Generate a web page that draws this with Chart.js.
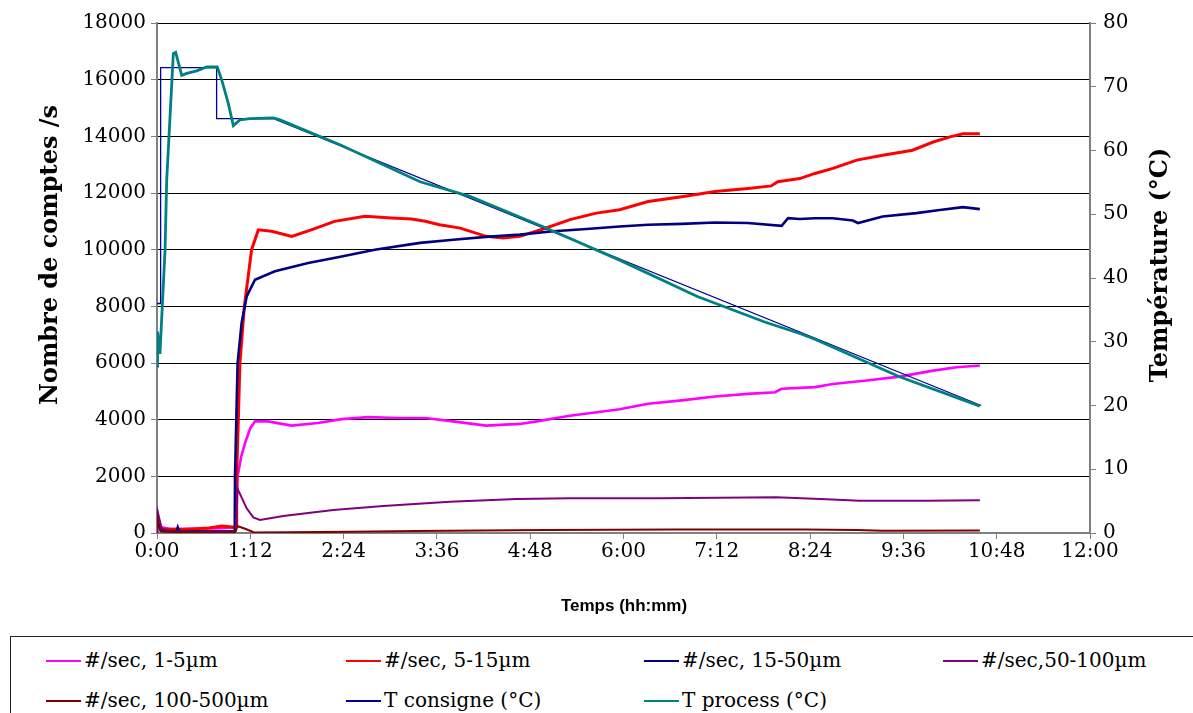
<!DOCTYPE html>
<html>
<head>
<meta charset="utf-8">
<script src="https://cdn.jsdelivr.net/npm/chart.js@4.4.0/dist/chart.umd.min.js"></script>
<style>
body { margin:0; background:#fff; width:1193px; height:713px; overflow:hidden; position:relative; font-family:"DejaVu Serif", serif; }
#wrap { position:absolute; left:0; top:0; width:1193px; height:630px; }
#legend { position:absolute; left:10px; top:636px; width:1200px; height:100px; border:1px solid #222; box-sizing:border-box; }
.item { position:absolute; height:26px; line-height:26px; font-size:20px; white-space:nowrap; color:#000; }
.item .swatch { display:inline-block; width:35px; height:2px; margin-right:3px; vertical-align:middle; position:relative; top:-1px; }
</style>
</head>
<body>
<div id="wrap"><canvas id="chart" width="1193" height="630"></canvas></div>
<div id="legend"></div>
<script>
// time in minutes
var tMag = [0, 1, 3, 10, 30, 50, 60, 61, 62.2, 65, 68, 72, 75.6, 85.6, 104, 124, 142.5, 163, 186, 207, 228.6, 254, 280, 293, 318.7, 357, 379, 405, 430.6, 456, 477, 482, 507.7, 521.6, 547.6, 573, 599, 617, 635];
var vMag = [600, 300, 200, 150, 150, 170, 200, 250, 2000, 2700, 3180, 3700, 3940, 3940, 3790, 3880, 4020, 4090, 4060, 4060, 3940, 3790, 3850, 3940, 4140, 4370, 4560, 4680, 4820, 4910, 4970, 5090, 5150, 5260, 5380, 5520, 5730, 5850, 5910];

var tRed = [0, 1.5, 5, 20, 40, 50, 60, 61, 61.5, 64, 67.4, 73, 78.2, 88.5, 104, 119, 137, 160.5, 181, 196.5, 207, 218, 234, 254, 267, 280, 298, 318.7, 339, 357, 379, 405, 430.6, 456, 474, 479, 496, 507.7, 521.6, 540, 560, 583, 599, 612, 622, 635];
var vRed = [500, 250, 120, 120, 180, 250, 200, 300, 2000, 6000, 8000, 10000, 10700, 10650, 10470, 10700, 11000, 11180, 11120, 11080, 11000, 10880, 10760, 10470, 10410, 10470, 10730, 11060, 11290, 11410, 11700, 11870, 12050, 12160, 12250, 12400, 12510, 12690, 12870, 13160, 13330, 13510, 13800, 13980, 14090, 14090];

var tNavy = [0, 1, 3, 15, 16, 17, 60, 60.2, 62.2, 65.3, 69.2, 75.6, 91, 116.7, 142.5, 168, 203, 228.6, 254, 280, 305.8, 331.5, 357, 379, 405, 430.6, 456, 482, 487, 496, 507.7, 521.6, 537, 541, 560, 586, 604, 622, 635];
var vNavy = [800, 300, 80, 60, 200, 60, 60, 2000, 6000, 7410, 8350, 8940, 9240, 9530, 9760, 10000, 10240, 10350, 10450, 10530, 10650, 10730, 10820, 10880, 10910, 10960, 10940, 10840, 11110, 11080, 11110, 11110, 11030, 10940, 11170, 11290, 11400, 11500, 11430];

var tPur = [0, 0.5, 3.6, 10, 30, 60, 61, 62, 69.2, 74.3, 79.5, 97.5, 136, 174.6, 226, 277.5, 318.7, 388, 478, 516.7, 542, 594, 635];
var vPur = [0, 750, 165, 60, 50, 50, 100, 1577, 870, 553, 460, 600, 812, 953, 1106, 1200, 1224, 1224, 1259, 1188, 1141, 1141, 1153];

var tDark = [0, 1, 3, 20, 60, 61, 62, 68, 75, 150, 200, 300, 400, 500, 540, 560, 635];
var vDark = [700, 250, 50, 30, 30, 80, 247, 150, 20, 40, 70, 110, 120, 120, 110, 80, 90];

var tCons = [0, 2.8, 2.8, 46, 46, 90, 636];
var vCons = [36, 36, 73, 73, 65, 65, 20];

var tProc = [0, 0.4, 2.3, 6.2, 7.5, 12.6, 14.4, 19.1, 22.9, 30.6, 38.3, 42.2, 46.5, 49.9, 55, 58.9, 64, 71.8, 89.7, 94.9, 141.2, 203, 241.5, 300.7, 357, 417, 469, 496, 507.7, 573, 635];
var vProc = [26.2, 31.6, 28.1, 44.4, 55.4, 75.2, 75.4, 71.8, 72.1, 72.5, 73.1, 73.1, 73.1, 71.1, 67.4, 63.9, 64.8, 65, 65.1, 64.8, 60.9, 55.1, 52.8, 47.8, 42.8, 37.1, 33.1, 31.3, 30.4, 24.5, 19.9];

var seriesNames = ["#/sec, 1-5µm", "#/sec, 5-15µm", "#/sec, 15-50µm", "#/sec,50-100µm", "#/sec, 100-500µm", "T consigne (°C)", "T process (°C)"];
var seriesColors = ["#ff00ff", "#ff0000", "#000080", "#800080", "#800000", "#000099", "#008080"];

function pts(t, v) {
    return t.map(function (x, i) { return {x: x, y: v[i]}; });
}

function hhmm(m) {
    var h = Math.floor(m / 60);
    var mm = Math.round(m - h * 60);
    return h + ":" + (mm < 10 ? "0" + mm : mm);
}

var sets = [
    [tMag, vMag, 'y', 2.6],
    [tRed, vRed, 'y', 3],
    [tNavy, vNavy, 'y', 2.6],
    [tPur, vPur, 'y', 2],
    [tDark, vDark, 'y', 2],
    [tCons, vCons, 'y1', 1.3],
    [tProc, vProc, 'y1', 2.8]
];

var datasets = sets.map(function (s, i) {
    return {
        label: seriesNames[i],
        data: pts(s[0], s[1]),
        yAxisID: s[2],
        borderColor: seriesColors[i],
        backgroundColor: seriesColors[i],
        borderWidth: s[3],
        pointRadius: 0,
        tension: 0,
        fill: false,
        order: 7 - i
    };
});

var tickFont = {family: "DejaVu Serif", size: 20};

var titlePlugin = {
    id: 'titles',
    afterDraw: function (chart) {
        var ctx = chart.ctx;
        ctx.save();
        ctx.fillStyle = "#000";
        ctx.textAlign = "center";
        ctx.textBaseline = "middle";
        ctx.font = 'bold 24px "DejaVu Serif"';
        ctx.save();
        ctx.translate(51, 255);
        ctx.rotate(-Math.PI / 2);
        ctx.fillText("Nombre de comptes /s", 0, 0);
        ctx.restore();
        ctx.save();
        ctx.translate(1161, 265);
        ctx.rotate(-Math.PI / 2);
        ctx.fillText("Température (°C)", 0, 0);
        ctx.restore();
        ctx.font = 'bold 17px "Liberation Sans"';
        ctx.fillText("Temps (hh:mm)", 624, 606);
        ctx.restore();
    }
};

new Chart(document.getElementById("chart"), {
    type: 'line',
    data: {datasets: datasets},
    options: {
        responsive: false,
        animation: false,
        layout: {padding: {top: 23, left: 0, right: 0, bottom: 0}},
        plugins: {legend: {display: false}, tooltip: {enabled: false}},
        scales: {
            x: {
                type: 'linear', min: 0, max: 720,
                afterFit: function (s) { s.height = 97; },
                ticks: {stepSize: 72, color: "#000", font: tickFont, padding: 1, maxRotation: 0,
                    callback: function (v) { return hhmm(v); }},
                grid: {drawOnChartArea: false, tickLength: 6, color: "#808080"},
                border: {color: "#808080", width: 2}
            },
            y: {
                position: 'left', min: 0, max: 18000,
                afterFit: function (s) { s.width = 157; },
                ticks: {stepSize: 2000, color: "#000", font: tickFont, padding: 5,
                    callback: function (v) { return String(v); }},
                grid: {color: "#000", lineWidth: 1, tickLength: 6, tickColor: "#808080"},
                border: {color: "#808080", width: 2}
            },
            y1: {
                position: 'right', min: 0, max: 80,
                afterFit: function (s) { s.width = 103; },
                ticks: {stepSize: 10, color: "#000", font: tickFont, padding: 7,
                    callback: function (v) { return String(v); }},
                grid: {drawOnChartArea: false, tickLength: 6, color: "#808080"},
                border: {color: "#808080", width: 2}
            }
        }
    },
    plugins: [titlePlugin]
});

// html legend, 4 columns
var legendCols = [35, 335, 633, 932];
var legendRows = [10, 50];
var legend = document.getElementById("legend");
seriesNames.forEach(function (name, i) {
    var el = document.createElement("div");
    el.className = "item";
    el.style.left = legendCols[i % 4] + "px";
    el.style.top = legendRows[Math.floor(i / 4)] + "px";
    el.innerHTML = '<span class="swatch" style="background:' + seriesColors[i] + '"></span>' + name;
    legend.appendChild(el);
});
</script>
</body>
</html>
